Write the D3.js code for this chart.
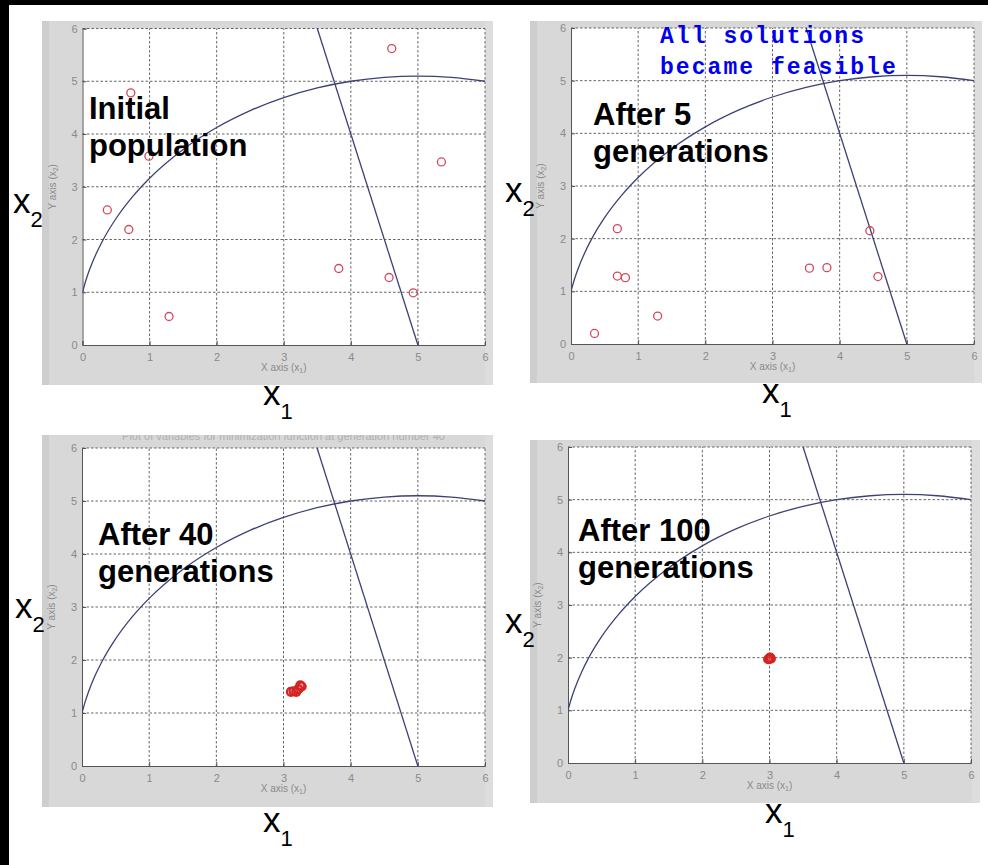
<!DOCTYPE html>
<html><head><meta charset="utf-8">
<script src="https://cdn.jsdelivr.net/npm/d3@7"></script>
<style>body{margin:0;background:#fff}svg{display:block}</style>
</head><body><svg id="c" width="988" height="865"></svg>
<script>
// ---------- data ----------
const tickValues = [0, 1, 2, 3, 4, 5, 6];
const boundaryX1 = [0, 0.05, 0.1, 0.2, 0.3, 0.5, 0.75, 1, 1.5, 2, 2.5, 3, 3.5, 4, 4.5, 5, 5.5, 6];
const boundaryX2 = [1, 1.224, 1.411, 1.72, 1.977, 2.398, 2.817, 3.162, 3.708, 4.123, 4.444, 4.69, 4.873, 5, 5.074, 5.099, 5.074, 5];
const lineX1 = [3.5, 5];
const lineX2 = [6, 0];
const gen0X1 = [4.61, 0.72, 0.99, 5.35, 0.37, 0.69, 3.82, 4.57, 4.93, 1.29];
const gen0X2 = [5.62, 4.78, 3.58, 3.47, 2.56, 2.19, 1.45, 1.28, 0.99, 0.54];
const gen5X1 = [0.69, 4.45, 0.69, 0.81, 3.55, 3.81, 4.57, 1.29, 0.35];
const gen5X2 = [2.19, 2.15, 1.29, 1.26, 1.44, 1.45, 1.28, 0.53, 0.20];
const gen40X1 = [3.11, 3.15, 3.19, 3.22, 3.25, 3.27];
const gen40X2 = [1.40, 1.41, 1.40, 1.45, 1.52, 1.50];
const gen100X1 = [2.98, 3.00, 3.01, 3.02, 3.00];
const gen100X2 = [1.97, 1.98, 2.00, 1.98, 1.99];
const titles = [["Initial", "population"], ["After 5", "generations"], ["After 40", "generations"], ["After 100", "generations"]];
const noteLines = ["All solutions", "became feasible"];

// ---------- layout ----------
const panels = [
  {frame:[42,21,451,364], px:[82.5,485], py:[345,28.5], xs:gen0X1, ys:gen0X2, bold:false,
   title:[89,119,156], x2lab:[13,213], x1lab:[263,405]},
  {frame:[530,21,452,362], px:[571,974], py:[344,28], xs:gen5X1, ys:gen5X2, bold:false,
   title:[593,125,162], x2lab:[505,202], x1lab:[762,403]},
  {frame:[42,435,451,372], px:[82,485], py:[766,448], xs:gen40X1, ys:gen40X2, bold:true,
   title:[98,545,582], x2lab:[15,618], x1lab:[263,832]},
  {frame:[530,440,450,363], px:[568,971], py:[763,447], xs:gen100X1, ys:gen100X2, bold:true,
   title:[578,541,578], x2lab:[505,633], x1lab:[765,823]}
];

const svg = d3.select("#c");
svg.append("rect").attr("width",988).attr("height",865).attr("fill","#fff");

panels.forEach((p, i) => {
  const g = svg.append("g");
  const [fx, fy, fw, fh] = p.frame;
  g.append("rect").attr("x",fx).attr("y",fy).attr("width",fw).attr("height",fh).attr("fill","#d8d8d8");
  g.append("rect").attr("x",fx).attr("y",fy).attr("width",7).attr("height",fh).attr("fill","#cecece");
  g.append("rect").attr("x",fx+fw-8).attr("y",fy).attr("width",8).attr("height",fh).attr("fill","#dddddd");

  const x = d3.scaleLinear().domain([0,6]).range(p.px);
  const y = d3.scaleLinear().domain([0,6]).range(p.py);
  const [x0,x1] = p.px, [y0,y1] = p.py;

  g.append("rect").attr("x",x0).attr("y",y1).attr("width",x1-x0).attr("height",y0-y1).attr("fill","#fff");

  if (i === 2) {
    const cid = "clipT" + i;
    svg.append("clipPath").attr("id",cid).append("rect").attr("x",fx).attr("y",fy).attr("width",fw).attr("height",20);
    g.append("text").attr("x",(x0+x1)/2).attr("y",fy+5).attr("text-anchor","middle")
      .attr("clip-path",`url(#${cid})`).attr("font-family","Liberation Sans, Arial").attr("font-size",11)
      .attr("fill","#b0b0b0").text("Plot of variables for minimization function at generation number 40");
  }

  // grid
  const grid = g.append("g").attr("stroke","#666").attr("stroke-width",1).attr("stroke-dasharray","2.5,2");
  tickValues.forEach(t => {
    if (t > 0) grid.append("line").attr("x1",x(t)).attr("x2",x(t)).attr("y1",y0).attr("y2",y1);
    if (t > 0) grid.append("line").attr("y1",y(t)).attr("y2",y(t)).attr("x1",x0).attr("x2",x1);
  });

  // axes (left and bottom, MATLAB style)
  const xAxis = d3.axisBottom(x).tickValues(tickValues).tickSize(-4).tickPadding(8).tickFormat(d3.format("d"));
  const yAxis = d3.axisLeft(y).tickValues(tickValues).tickSize(-4).tickPadding(5).tickFormat(d3.format("d"));
  const ax = g.append("g").attr("transform",`translate(0,${y0})`).call(xAxis);
  const ay = g.append("g").attr("transform",`translate(${x0},0)`).call(yAxis);
  [ax, ay].forEach(a => {
    a.select(".domain").attr("stroke","#555");
    a.selectAll(".tick line").attr("stroke","#555");
    a.selectAll(".tick text").attr("fill","#8a8a8a").attr("font-size",11).attr("font-family","Liberation Sans, Arial");
  });

  // axis titles (small MATLAB)
  const xt = g.append("text").attr("x",(x0+x1)/2).attr("y",y0+26).attr("text-anchor","middle")
    .attr("font-family","Liberation Sans, Arial").attr("font-size",10).attr("fill","#8a8a8a");
  xt.append("tspan").text("X axis (x");
  xt.append("tspan").attr("font-size",7).attr("dy",2).text("1");
  xt.append("tspan").attr("dy",-2).text(")");
  const ytx = x0 - 27, yty = (y0+y1)/2;
  const yt = g.append("text").attr("transform",`translate(${ytx},${yty}) rotate(-90)`).attr("text-anchor","middle")
    .attr("font-family","Liberation Sans, Arial").attr("font-size",10).attr("fill","#8a8a8a");
  yt.append("tspan").text("Y axis (x");
  yt.append("tspan").attr("font-size",7).attr("dy",2).text("2");
  yt.append("tspan").attr("dy",-2).text(")");

  // constraint boundaries
  const clipId = "clip" + i;
  svg.append("clipPath").attr("id",clipId).append("rect").attr("x",x0).attr("y",y1-1).attr("width",x1-x0+1).attr("height",y0-y1+2);
  const line = d3.line().x(d => x(d[0])).y(d => y(d[1]));
  g.append("path").datum(d3.zip(boundaryX1, boundaryX2)).attr("clip-path",`url(#${clipId})`)
    .attr("d", line.curve(d3.curveMonotoneX)).attr("fill","none").attr("stroke","#3d4176").attr("stroke-width",1.3);
  g.append("path").datum(d3.zip(lineX1, lineX2)).attr("clip-path",`url(#${clipId})`)
    .attr("d", d3.line().x(d => x(d[0])).y(d => y(d[1]))).attr("fill","none").attr("stroke","#3d4176").attr("stroke-width",1.3);

  // population markers
  g.append("g").selectAll("circle").data(d3.zip(p.xs, p.ys)).join("circle")
    .attr("cx", d => x(d[0])).attr("cy", d => y(d[1])).attr("r", 4)
    .attr("fill", p.bold ? "rgba(220,40,40,0.25)" : "none")
    .attr("stroke", p.bold ? "#d42323" : "#cf4a5e")
    .attr("stroke-width", p.bold ? 2.2 : 1.3);

  // overlay labels
  const [tx, tb1, tb2] = p.title;
  const tt = g.append("text").attr("font-family","Liberation Sans, Arial").attr("font-weight","bold")
    .attr("font-size",31).attr("fill","#000");
  tt.append("tspan").attr("x",tx).attr("y",tb1).text(titles[i][0]);
  tt.append("tspan").attr("x",tx).attr("y",tb2).text(titles[i][1]);

  const [lx2, ly2] = p.x2lab;
  const t2 = g.append("text").attr("x",lx2).attr("y",ly2).attr("font-family","Liberation Sans, Arial").attr("fill","#000");
  t2.append("tspan").attr("font-size",35).text("x");
  t2.append("tspan").attr("font-size",22).attr("dy",14).text("2");
  const [lx1, ly1] = p.x1lab;
  const t1 = g.append("text").attr("x",lx1).attr("y",ly1).attr("font-family","Liberation Sans, Arial").attr("fill","#000");
  t1.append("tspan").attr("font-size",35).text("x");
  t1.append("tspan").attr("font-size",22).attr("dy",14).text("1");
});

// note in panel 2
const note = svg.append("text").attr("font-family","Liberation Mono, Courier New, monospace").attr("font-weight","bold")
  .attr("font-size",23).attr("letter-spacing",2.05).attr("fill","#0000ee");
noteLines.forEach((s, k) => note.append("tspan").attr("x",660).attr("y",43 + k*31).text(s));

// black border strips
svg.append("rect").attr("x",0).attr("y",0).attr("width",988).attr("height",5).attr("fill","#000");
svg.append("rect").attr("x",0).attr("y",0).attr("width",9).attr("height",865).attr("fill","#000");
</script></body></html>
